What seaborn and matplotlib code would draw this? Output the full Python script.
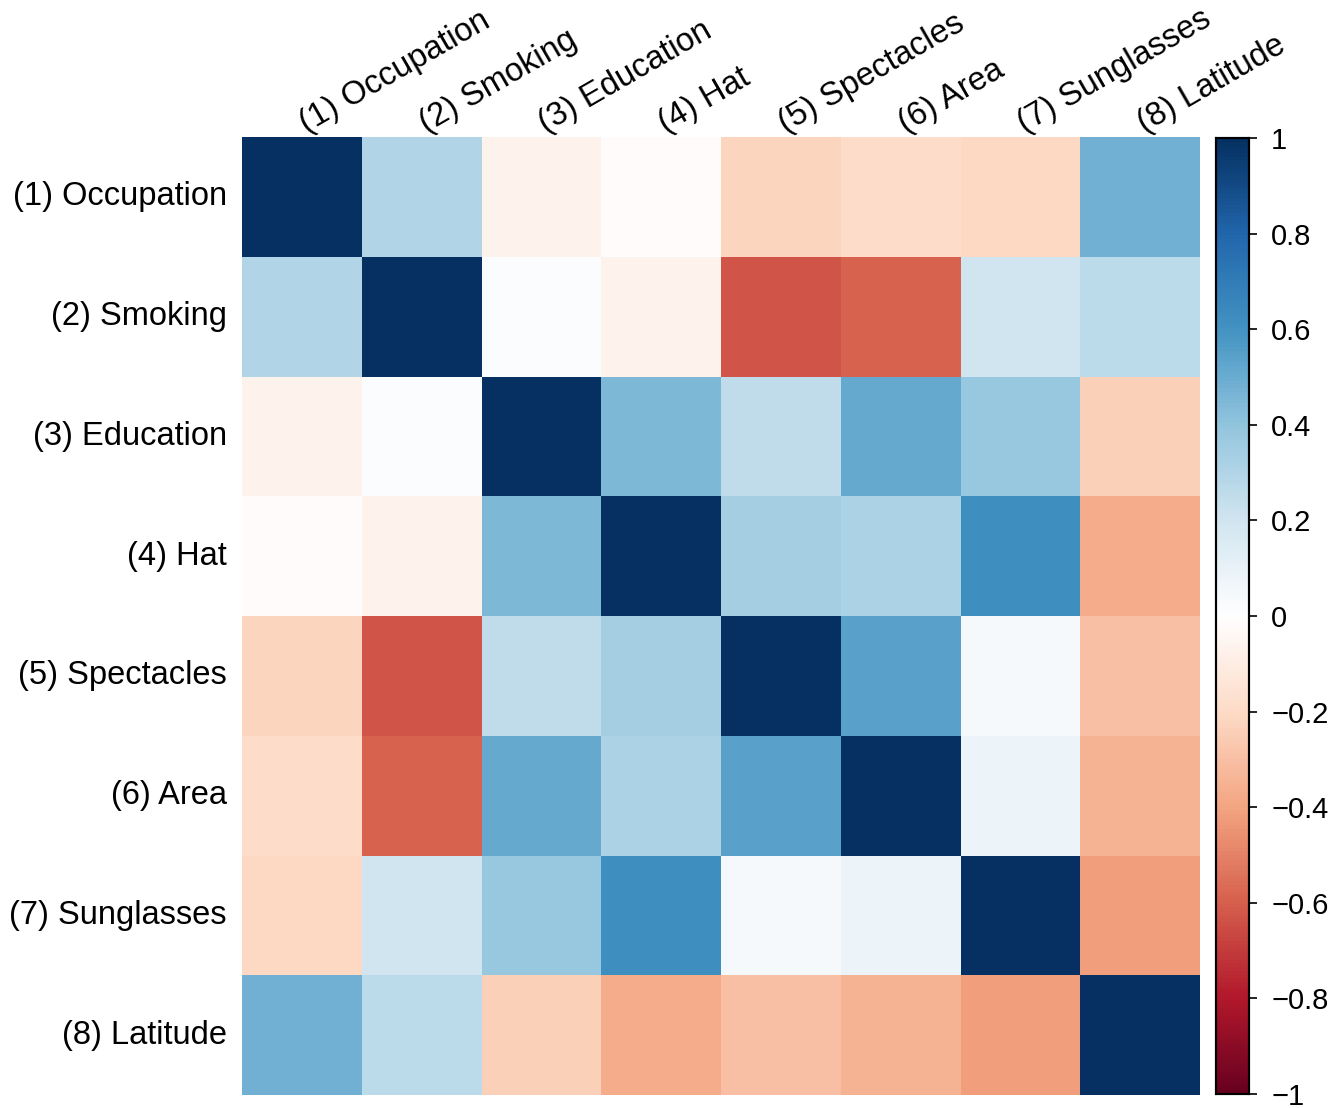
import numpy as np
import pandas as pd
import matplotlib
matplotlib.use("Agg")
import matplotlib.pyplot as plt
import matplotlib.transforms as mtransforms
from matplotlib.colors import LinearSegmentedColormap
import seaborn as sns

labels = ["(1) Occupation", "(2) Smoking", "(3) Education", "(4) Hat",
          "(5) Spectacles", "(6) Area", "(7) Sunglasses", "(8) Latitude"]

row1 = [1.00, 0.30, -0.07, -0.02, -0.22, -0.19, -0.21, 0.48]
row2 = [0.30, 1.00, 0.02, -0.07, -0.63, -0.59, 0.20, 0.27]
row3 = [-0.07, 0.02, 1.00, 0.45, 0.25, 0.51, 0.38, -0.24]
row4 = [-0.02, -0.07, 0.45, 1.00, 0.34, 0.32, 0.62, -0.37]
row5 = [-0.22, -0.63, 0.25, 0.34, 1.00, 0.54, 0.04, -0.30]
row6 = [-0.19, -0.59, 0.51, 0.32, 0.54, 1.00, 0.08, -0.35]
row7 = [-0.21, 0.20, 0.38, 0.62, 0.04, 0.08, 1.00, -0.42]
row8 = [0.48, 0.27, -0.24, -0.37, -0.30, -0.35, -0.42, 1.00]

cbar_ticks = [1, 0.8, 0.6, 0.4, 0.2, 0, -0.2, -0.4, -0.6, -0.8, -1]
cbar_labels = ["1", "0.8", "0.6", "0.4", "0.2", "0", "\u22120.2",
               "\u22120.4", "\u22120.6", "\u22120.8", "\u22121"]

df = pd.DataFrame([row1, row2, row3, row4, row5, row6, row7, row8],
                  index=labels, columns=labels)

# RdBu with a pure white centre
rdbu_colors = ["#67001f", "#b2182b", "#d6604d", "#f4a582", "#fddbc7",
               "#ffffff", "#d1e5f0", "#92c5de", "#4393c3", "#2166ac", "#053061"]
cmap = LinearSegmentedColormap.from_list("rdbu_white", rdbu_colors, N=256)

sns.set_style("white")
plt.rcParams['font.family'] = ['Liberation Sans', 'DejaVu Sans']
plt.rcParams['text.color'] = 'black'
plt.rcParams['xtick.color'] = 'black'
plt.rcParams['ytick.color'] = 'black'

fig = plt.figure(figsize=(13.35, 11.08), dpi=100)
W, H = 1335, 1108
ax = fig.add_axes([242 / W, 1 - 1095 / H, (1200 - 242) / W, (1095 - 137) / H])
cax = fig.add_axes([1216 / W, 1 - 1094 / H, (1249 - 1216) / W, (1094 - 138) / H])

sns.heatmap(df, ax=ax, cbar_ax=cax, cmap=cmap, vmin=-1, vmax=1,
            square=False, linewidths=0,
            cbar_kws={"ticks": cbar_ticks})

ax.xaxis.tick_top()
ax.set_xticklabels(labels, rotation=30, ha="left", rotation_mode="anchor",
                   fontsize=23.5, color="black")
ax.set_yticklabels(labels, rotation=0, fontsize=23.5, color="black")
ax.tick_params(axis="y", length=0, pad=11)
ax.tick_params(axis="x", length=0, pad=0)
offset = mtransforms.ScaledTranslation(8 / 100, -2 / 100, fig.dpi_scale_trans)
for lab in ax.get_xticklabels():
    lab.set_transform(lab.get_transform() + offset)
ax.set_xlabel("")
ax.set_ylabel("")

cax.set_yticklabels(cbar_labels)
cax.tick_params(labelsize=21, length=6, width=1.2, direction="out", pad=10,
                colors="black")
for s in cax.spines.values():
    s.set_visible(True)
    s.set_linewidth(1.5)
    s.set_color("black")

fig.savefig("out.png", dpi=100)
